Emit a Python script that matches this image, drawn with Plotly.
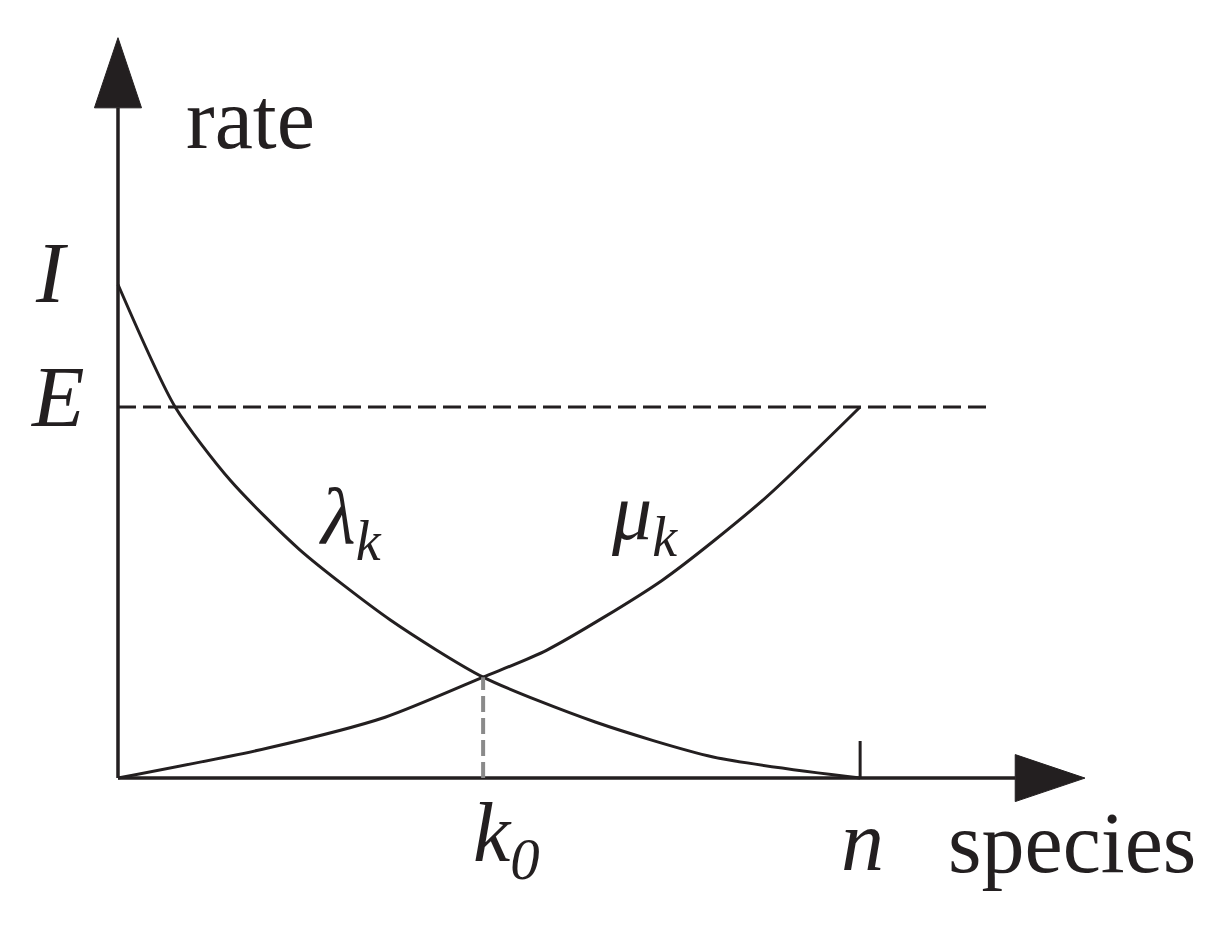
import plotly.graph_objects as go

# Kurvdata (x i enheter där n = 10, y i enheter där E = 10)
lam_x = [0, 0.77, 1.51, 2.45, 3.67, 4.92, 6.43, 8.02, 10]
lam_y = [13.3, 10.0, 8.03, 6.15, 4.26, 2.72, 1.51, 0.57, 0]

mu_x = [0, 2.02, 3.60, 4.92, 5.78, 7.34, 8.69, 10]
mu_y = [0, 0.81, 1.64, 2.72, 3.45, 5.34, 7.49, 10.0]

# Markerade värden
I_val = 13.3
E_val = 10.0
k0_val = 4.92
k0_rate = 2.72
n_val = 10

INK = "#231f20"
FONT = "Liberation Serif"

# Axlarnas utsträckning
x_end, x_tip = 12.09, 13.03
y_end, y_tip = 18.06, 19.95
dash_end = 11.71

fig = go.Figure()

for xs, ys in [(lam_x, lam_y), (mu_x, mu_y)]:
    fig.add_trace(go.Scatter(x=xs, y=ys, mode="lines",
                             line=dict(color=INK, width=3, shape="spline", smoothing=0.7),
                             showlegend=False))

shapes = [
    # axlar
    dict(type="line", x0=0, y0=0, x1=x_end, y1=0, line=dict(color=INK, width=3.5)),
    dict(type="line", x0=0, y0=0, x1=0, y1=y_end, line=dict(color=INK, width=3.5)),
    # pilspetsar
    dict(type="path",
         path=f"M {x_end},{-0.633} L {x_tip},0 L {x_end},{0.633} Z",
         fillcolor=INK, line=dict(color=INK, width=1)),
    dict(type="path",
         path=f"M {-0.317},{y_end} L 0,{y_tip} L {0.317},{y_end} Z",
         fillcolor=INK, line=dict(color=INK, width=1)),
    # E-linje
    dict(type="line", x0=0, y0=E_val, x1=dash_end, y1=E_val,
         line=dict(color=INK, width=3, dash="18px,7px")),
    # k0-linje
    dict(type="line", x0=k0_val, y0=0, x1=k0_val, y1=k0_rate,
         line=dict(color="#8a8a8a", width=4, dash="16px,6px")),
    # streck vid n
    dict(type="line", x0=n_val, y0=0, x1=n_val, y1=1.0,
         line=dict(color=INK, width=3)),
]

def txt(x, y, s, size=86):
    return dict(x=x, y=y, text=s, showarrow=False, xanchor="center", yanchor="middle",
                font=dict(family=FONT, size=size, color=INK))

annotations = [
    txt(1.78, 17.76, "rate"),
    txt(-0.89, I_val + 0.3, "<i>I</i>"),
    txt(-0.82, E_val + 0.27, "<i>E</i>"),
    txt(3.13, 6.90, "<i>λ<sub>k</sub></i>", size=80),
    txt(7.09, 7.0, "<i>μ<sub>k</sub></i>", size=80),
    txt(k0_val + 0.32, -1.65, "<i>k<sub>0</sub></i>", size=84),
    txt(n_val + 0.03, -1.69, "<i>n</i>"),
    txt(12.86, -1.75, "species"),
]

fig.update_layout(
    width=1218, height=933,
    margin=dict(l=0, r=0, t=0, b=0),
    plot_bgcolor="white", paper_bgcolor="white",
    xaxis=dict(range=[-1.482, 14.93], visible=False),
    yaxis=dict(range=[-4.39, 20.75], visible=False),
    shapes=shapes,
    annotations=annotations,
)

fig.write_html("out.html")
